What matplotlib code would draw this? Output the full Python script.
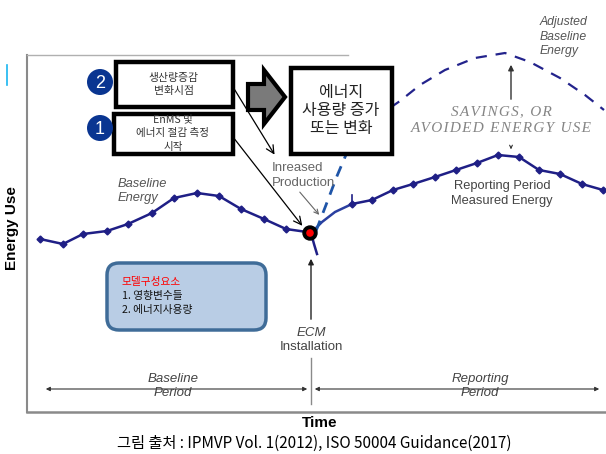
import matplotlib
matplotlib.use('Agg')

import matplotlib.pyplot as plt
from matplotlib.patches import Rectangle, Circle, Polygon, FancyBboxPatch

# diagram drawn on a 606 x 454 canvas (x = time, y = energy, y grows downward)
baseline_t = [40, 63, 83, 107, 128, 152, 174, 197, 219, 241, 264, 286]
baseline_e = [239, 244, 234, 231, 224, 213, 198, 193, 196, 209, 219, 229]

reporting_t = [352, 372, 393, 413, 435, 456, 477, 498, 519, 539, 560, 582, 603]
reporting_e = [204, 200, 190, 184, 177, 170, 163, 155, 157, 170, 174, 184, 190]

adjusted_t = [316, 326, 337, 348, 365, 384, 400, 420, 445, 475, 505, 530, 560, 585, 604]
adjusted_e = [231, 205, 176, 150, 128, 112, 101, 85, 70, 58, 53, 62, 78, 95, 110]

ecm_t = 311
ecm_e = 233

box_texts = [['생산량증감', '변화시점'], ['EnMS 및', '에너지 절감 측정', '시작'],
             ['에너지', '사용량 증가', '또는 변화']]
model_lines = ['모델구성요소', '1. 영향변수들', '2. 에너지사용량']
caption = '그림 출처 : IPMVP Vol. 1(2012), ISO 50004 Guidance(2017)'

KR = ['Noto Sans CJK KR', 'DejaVu Sans']
EN = ['Liberation Sans', 'Noto Sans CJK KR']
SERIF = ['Liberation Serif', 'DejaVu Serif']
NAVY = '#1f1f86'
GRAY = '#555555'

fig = plt.figure(figsize=(6.06, 4.54), dpi=100)
ax = fig.add_axes([0, 0, 1, 1])
ax.set_xlim(0, 606)
ax.set_ylim(454, 0)
ax.axis('off')


def lines_at(x, y0, step, lines, **kw):
    for i, s in enumerate(lines):
        ax.text(x, y0 + i * step, s, va='center', **kw)


# frame
ax.plot([27, 27], [55, 412], color='#8a8a8a', lw=1.5)
ax.plot([27, 606], [412, 412], color='#8a8a8a', lw=1.8)
ax.plot([27, 348], [55, 55], color='#b0b0b0', lw=1)
ax.plot([7, 7], [65, 85], color='#19b5f0', lw=1.2)

# curves
ax.plot(baseline_t + [ecm_t - 4], baseline_e + [ecm_e - 1], color=NAVY, lw=1.8,
        marker='D', ms=3.5, markevery=list(range(len(baseline_t))))
ax.plot([ecm_t, 314, 317], [ecm_e, 244, 254], color=NAVY, lw=1.8)
ax.plot([ecm_t + 2, 322, 335, reporting_t[0]], [ecm_e - 2, 222, 212, reporting_e[0]],
        color='#2a3fa0', lw=1.8)
ax.plot(reporting_t, reporting_e, color=NAVY, lw=1.8, marker='D', ms=3.5)
ax.plot([reporting_t[0], reporting_t[0]], [reporting_e[0], reporting_e[0] - 9], color=NAVY, lw=1.2)
ax.plot(adjusted_t[:4], adjusted_e[:4], color='#1f55a8', lw=2, ls=(0, (4, 3)))
ax.plot(adjusted_t[3:], adjusted_e[3:], color='#23238c', lw=1.6, ls=(0, (5, 4)))

# ECM point
ax.add_patch(Circle((ecm_t - 1, ecm_e), 7, fc='black', ec='black', zorder=5))
ax.add_patch(Circle((ecm_t - 1, ecm_e), 3.8, fc='red', ec='none', zorder=6))

# boxes
ax.add_patch(Rectangle((116, 62), 117, 45, fc='white', ec='black', lw=3.2, zorder=4))
ax.add_patch(Rectangle((114, 114), 119, 40, fc='white', ec='black', lw=3.2, zorder=4))
ax.add_patch(Rectangle((291, 68), 101, 86, fc='white', ec='black', lw=3.2, zorder=4))
lines_at(174, 78, 13, box_texts[0], ha='center', fontsize=7.8, family=KR, color='#333333', zorder=5)
lines_at(173, 119, 14, box_texts[1], ha='center', fontsize=7.6, family=KR, color='#333333', zorder=5)
lines_at(341, 93, 17.5, box_texts[2], ha='center', fontsize=11.5, family=KR, color='#222222', zorder=5)

for num, cy in [('2', 82), ('1', 128)]:
    ax.add_patch(Circle((100, cy), 13, fc='#0a3591', ec='none', zorder=5))
    ax.text(100, cy + 1, num, ha='center', va='center', color='white', fontsize=13,
            family=EN, zorder=6)

# block arrow
arrow_x = [248, 264, 264, 285, 264, 264, 248]
arrow_y = [84, 84, 70, 97, 124, 110, 110]
ax.add_patch(Polygon(list(zip(arrow_x, arrow_y)), closed=True, fc='#7a7a7a', ec='black', lw=3, zorder=4))

# pointer arrows
ax.annotate('', xy=(276, 157), xytext=(233, 87),
            arrowprops=dict(arrowstyle='->', color='black', lw=0.9, mutation_scale=14))
ax.annotate('', xy=(304, 228), xytext=(233, 137),
            arrowprops=dict(arrowstyle='->', color='black', lw=0.9, mutation_scale=14), zorder=4)
ax.annotate('', xy=(321, 217), xytext=(298, 190),
            arrowprops=dict(arrowstyle='->', color='#666666', lw=0.8, mutation_scale=8))
ax.annotate('', xy=(ecm_t, 256), xytext=(ecm_t, 322),
            arrowprops=dict(arrowstyle='-|>', color='#222222', lw=1, mutation_scale=8))
ax.annotate('', xy=(511, 62), xytext=(511, 102),
            arrowprops=dict(arrowstyle='-|>', color='#333333', lw=1, mutation_scale=8))
ax.annotate('', xy=(511, 152), xytext=(511, 144),
            arrowprops=dict(arrowstyle='->', color='#333333', lw=0.8, mutation_scale=5))

# labels
lines_at(272, 168, 15, ['Inreased', 'Production'], fontsize=9.5, family=EN, color='#666666')
lines_at(118, 184, 13.5, ['Baseline', 'Energy'], fontsize=9.3, family=EN, style='italic', color=GRAY)
lines_at(540, 22, 14.5, ['Adjusted', 'Baseline', 'Energy'], fontsize=8.8, family=EN,
         style='italic', color=GRAY)
lines_at(502, 186, 15, ['Reporting Period', 'Measured Energy'], fontsize=9.3, family=EN,
         color='#444444', ha='center')
hair = '\u200a'
lines_at(501, 112, 17, [hair.join('SAVINGS, OR'), hair.join('AVOIDED ENERGY USE')],
         fontsize=11, family=SERIF, style='italic', color='#858585', ha='center')
ax.text(ecm_t, 333, 'ECM', fontsize=9.5, family=EN, style='italic', color='#444444', ha='center', va='center')
ax.text(ecm_t, 347, 'Installation', fontsize=9.5, family=EN, color='#444444', ha='center', va='center')

# period arrows
ax.plot([ecm_t, ecm_t], [358, 404], color='#8a8a8a', lw=1)
ax.annotate('', xy=(43, 389), xytext=(ecm_t - 1, 389),
            arrowprops=dict(arrowstyle='<|-|>', color='#333333', lw=0.8, mutation_scale=6))
ax.annotate('', xy=(602, 389), xytext=(ecm_t + 1, 389),
            arrowprops=dict(arrowstyle='<|-|>', color='#333333', lw=0.8, mutation_scale=6))
ax.add_patch(Rectangle((143, 372), 60, 28, fc='white', ec='none', zorder=2))
ax.add_patch(Rectangle((446, 372), 68, 28, fc='white', ec='none', zorder=2))
lines_at(173, 379, 14, ['Baseline', 'Period'], fontsize=9.5, family=EN, style='italic',
         color='#444444', ha='center', zorder=3)
lines_at(480, 379, 14, ['Reporting', 'Period'], fontsize=9.5, family=EN, style='italic',
         color='#444444', ha='center', zorder=3)

# model box
ax.add_patch(FancyBboxPatch((107, 263), 159, 67, boxstyle='round,pad=0,rounding_size=12',
                            fc='#b9cde5', ec='#3f6c98', lw=2.5))
for i, line in enumerate(model_lines):
    ax.text(122, 282 + i * 14, line, fontsize=7.7, family=KR, va='center',
            color='red' if i == 0 else '#111111')

# axis titles and caption
ax.text(12, 228, 'Energy Use', rotation=90, fontsize=11, family=EN, weight='bold',
        ha='center', va='center')
ax.text(320, 423, 'Time', fontsize=11, family=EN, weight='bold', ha='center', va='center')
ax.text(314, 443, caption, fontsize=11, family=KR, ha='center', va='center')

fig.savefig('out.png', dpi=100)
